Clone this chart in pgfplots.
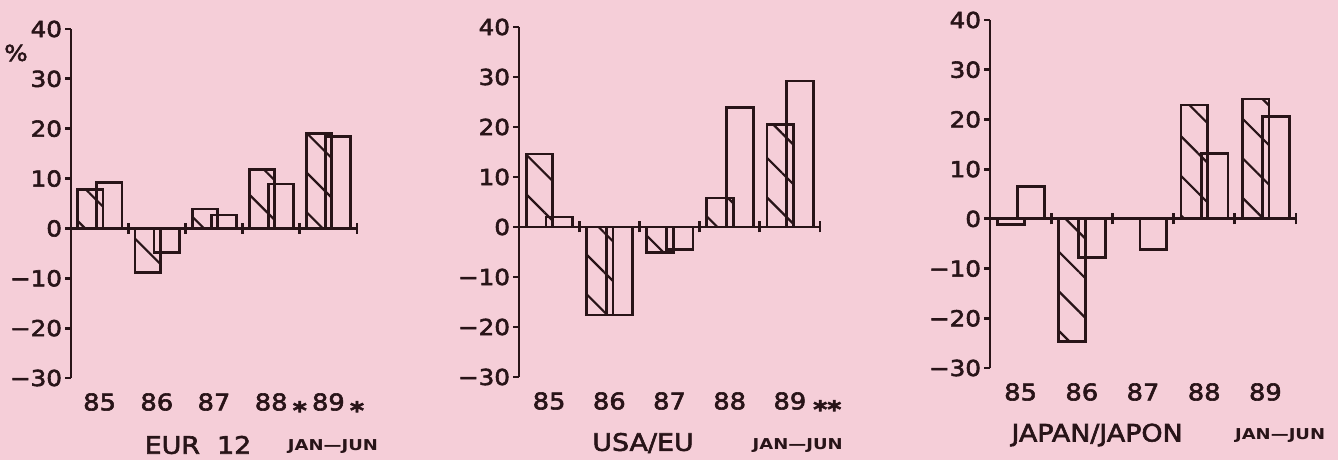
\documentclass[border=0pt]{standalone}
\usepackage{pgfplots}
\pgfplotsset{compat=1.18}
\usepackage{fontspec}
\setmainfont{DejaVu Sans}[FakeStretch=1.12, FakeBold=2.5]
\newfontfamily\jjfont{DejaVu Sans Bold}[FakeStretch=1.2]
\usetikzlibrary{patterns.meta}
\definecolor{bg}{RGB}{245,206,216}
\definecolor{ink}{RGB}{40,20,24}
\pgfplotsset{
  panel/.style={
    scale only axis, anchor=south west, clip=false,
    xmin=0, xmax=5, ymin=-30, ymax=40,
    axis y line=left, axis x line=middle,
    axis line style={ink, line width=1.4pt, -},
    xtick=\empty,
    extra x ticks={1,2,3,4,5}, extra x tick labels={},
    extra x tick style={major tick length=5.5pt, xtick align=center},
    ytick={-30,-20,-10,0,10,20,30,40},
    yticklabels={−30,−20,−10,0,10,20,30,40},
    hide obscured y ticks=false,
    hide obscured x ticks=false,
    ytick align=outside,
    major tick length=2.8pt,
    tick style={ink, line width=1.4pt},
    yticklabel style={font=\fontsize{11}{11}\selectfont, text=ink, inner sep=1.5pt},
    ybar, bar width=0.44, bar shift=0pt,
  },
  hatched/.style={draw=ink, line width=1.4pt, pattern={Lines[angle=-45,distance=14pt,line width=1.1pt]}, pattern color=ink},
  empty/.style={draw=ink, line width=1.4pt, fill=none},
}
\tikzset{
  cat/.style={font=\fontsize{11.5}{11.5}\selectfont, text=ink, anchor=center, yshift=-12pt},
  star/.style={font=\fontsize{12}{12}\selectfont\bfseries, text=ink, anchor=center, yshift=-16pt, inner sep=0pt},
  ttl/.style={font=\fontsize{12}{12}\selectfont, text=ink, anchor=center},
  jj/.style={font=\fontsize{7.5}{7.5}\jjfont, text=ink, anchor=center},
}
\begin{document}
\begin{tikzpicture}
\fill[bg] (0,0) rectangle (669pt,230pt);
\useasboundingbox (0,0) rectangle (669pt,230pt);

% EUR 12
\begin{axis}[panel, at={(35.5pt,41pt)}, width=143pt, height=174.5pt]
\addplot[hatched] coordinates {(0.34,7.8) (1.34,-8.9) (2.34,3.9) (3.34,11.8) (4.34,19.1)};
\addplot[empty] coordinates {(0.67,9.2) (1.67,-4.9) (2.67,2.7) (3.67,8.9) (4.67,18.4)};
\node[cat] at (axis cs:0.5,-30) {85};
\node[cat] at (axis cs:1.5,-30) {86};
\node[cat] at (axis cs:2.5,-30) {87};
\node[cat] at (axis cs:3.5,-30) {88};
\node[cat] at (axis cs:4.5,-30) {89};
\node[star] at (axis cs:4,-30) {*};
\node[star] at (axis cs:5,-30) {*};
\node[ttl] at (axis cs:2.22,-30) [yshift=-33.5pt] {EUR\ \ 12};
\node[jj] at (axis cs:4.58,-30) [yshift=-34.5pt] {JAN—JUN};
\node[font=\fontsize{11}{11}\selectfont, text=ink] at (axis cs:0,35.2) [xshift=-27.5pt] {\%};
\end{axis}

% USA/EU
\begin{axis}[panel, at={(259.5pt,41.5pt)}, width=150.5pt, height=175pt]
\addplot[hatched] coordinates {(0.34,14.6) (1.34,-17.6) (2.34,-5.1) (3.34,5.8) (4.34,20.5)};
\addplot[empty] coordinates {(0.67,2.0) (1.67,-17.6) (2.67,-4.5) (3.67,23.9) (4.67,29.2)};
\node[cat] at (axis cs:0.5,-30) {85};
\node[cat] at (axis cs:1.5,-30) {86};
\node[cat] at (axis cs:2.5,-30) {87};
\node[cat] at (axis cs:3.5,-30) {88};
\node[cat] at (axis cs:4.5,-30) {89};
\node[star] at (axis cs:5.12,-30) {**};
\node[ttl] at (axis cs:2.06,-30) [yshift=-33pt] {USA/EU};
\node[jj] at (axis cs:4.63,-30) [yshift=-34.5pt] {JAN—JUN};
\end{axis}

% JAPAN/JAPON
\begin{axis}[panel, at={(495pt,46pt)}, width=153pt, height=174pt]
\addplot[hatched] coordinates {(0.34,-1.1) (1.34,-24.6) (2.34,0) (3.34,22.9) (4.34,24.1)};
\addplot[empty] coordinates {(0.67,6.5) (1.67,-7.7) (2.67,-6.2) (3.67,13.1) (4.67,20.6)};
\node[cat] at (axis cs:0.5,-30) {85};
\node[cat] at (axis cs:1.5,-30) {86};
\node[cat] at (axis cs:2.5,-30) {87};
\node[cat] at (axis cs:3.5,-30) {88};
\node[cat] at (axis cs:4.5,-30) {89};
\node[ttl] at (axis cs:1.75,-30) [yshift=-33.5pt] {JAPAN/JAPON};
\node[jj] at (axis cs:4.74,-30) [yshift=-34pt] {JAN—JUN};
\end{axis}
\end{tikzpicture}
\end{document}
